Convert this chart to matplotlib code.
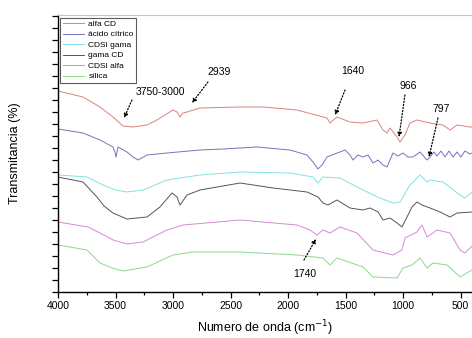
import matplotlib
matplotlib.use("Agg")
import matplotlib.pyplot as plt
from matplotlib.ticker import MultipleLocator

plt.rcParams['font.family'] = ['Liberation Sans', 'DejaVu Sans']

# FTIR spectra, offset vertically (arbitrary units)
w_alfa = [4000, 3783, 3635, 3522, 3435, 3348, 3226, 3139, 3000, 2965, 2939, 2913, 2878, 2765,
          2417, 2217, 1922, 1661, 1635, 1574, 1461, 1348, 1226, 1174, 1139, 1113, 1052, 1026,
          983, 939, 878, 765, 652, 591, 530, 417, 400]
t_alfa = [201, 195, 185, 175, 166, 165, 167, 172, 182, 180, 175, 179, 180, 184,
          185, 185, 182, 174, 169, 175, 170, 169, 172, 162, 159, 164, 155, 150,
          157, 169, 172, 169, 167, 162, 167, 165, 165]

w_citrico = [4000, 3783, 3635, 3522, 3504, 3496, 3478, 3400, 3348, 3304, 3226, 3052, 2765, 2565,
             2270, 1983, 1835, 1783, 1739, 1704, 1661, 1504, 1461, 1435, 1391, 1348, 1304, 1261,
             1217, 1174, 1139, 1087, 1043, 1000, 957, 913, 852, 791, 765, 730, 704, 670, 635,
             600, 565, 530, 496, 461, 417, 400]
t_citrico = [163, 159, 152, 145, 140, 135, 145, 140, 135, 132, 137, 139, 142, 143,
             145, 142, 137, 130, 123, 127, 135, 142, 137, 132, 137, 135, 137, 129,
             132, 127, 125, 139, 136, 139, 135, 135, 140, 132, 135, 140, 136, 141, 135,
             141, 135, 140, 135, 141, 138, 139]

w_cdsi_gama = [4000, 3748, 3609, 3500, 3400, 3261, 3052, 2939, 2765, 2417, 1983, 1783, 1739,
               1696, 1548, 1348, 1200, 1087, 1026, 939, 852, 791, 765, 652, 504, 461, 400]
t_cdsi_gama = [117, 115, 107, 102, 100, 102, 112, 114, 117, 120, 119, 115, 109,
               115, 114, 102, 94, 89, 90, 107, 117, 110, 112, 110, 97, 94, 100]

w_gama = [4000, 3783, 3661, 3600, 3522, 3400, 3226, 3113, 3009, 2965, 2939, 2878, 2765, 2417,
          2130, 1835, 1739, 1696, 1652, 1574, 1461, 1348, 1287, 1217, 1174, 1113, 1052, 1009,
          965, 922, 878, 835, 765, 678, 591, 530, 400]
t_gama = [115, 110, 95, 86, 79, 73, 75, 85, 99, 95, 87, 97, 102, 109,
          104, 100, 95, 89, 87, 92, 84, 82, 84, 80, 72, 74, 69, 65,
          75, 85, 90, 87, 84, 80, 75, 79, 80]

w_cdsi_alfa = [4000, 3739, 3635, 3520, 3400, 3261, 3052, 2913, 2417, 1922, 1809, 1748, 1696,
               1635, 1548, 1400, 1261, 1087, 1009, 983, 878, 835, 791, 765, 704, 591, 504,
               461, 400]
t_cdsi_alfa = [70, 65, 59, 52, 48, 50, 62, 67, 72, 67, 62, 57, 62,
               59, 65, 59, 42, 37, 42, 54, 60, 67, 55, 57, 62, 59, 42,
               39, 46]

w_silica = [4000, 3748, 3635, 3530, 3435, 3226, 3000, 2826, 2417, 1922, 1696, 1635, 1574,
            1348, 1261, 1052, 1000, 922, 852, 791, 739, 617, 504, 400]
t_silica = [47, 42, 29, 24, 21, 25, 37, 40, 40, 37, 34, 27, 34,
            25, 15, 14, 24, 27, 34, 24, 29, 27, 15, 22]

series = [
    ("alfa CD", w_alfa, t_alfa, "#d9847c"),
    ("ácido cítrico", w_citrico, t_citrico, "#7474bc"),
    ("CDSI gama", w_cdsi_gama, t_cdsi_gama, "#86e0e0"),
    ("gama CD", w_gama, t_gama, "#555555"),
    ("CDSI alfa", w_cdsi_alfa, t_cdsi_alfa, "#d888d8"),
    ("sílica", w_silica, t_silica, "#8cd88c"),
]

# band labels: text, text position, arrow start, arrow tip
bands = [
    ("3750-3000", (3113, 200), (3357, 192), (3426, 174)),
    ("2939", (2600, 220), (2696, 210), (2835, 189)),
    ("1640", (1435, 221), (1504, 202), (1591, 177)),
    ("966", (957, 206), (983, 197), (1035, 155)),
    ("797", (670, 183), (696, 174), (774, 135)),
    ("1740", (1852, 18), (1861, 32), (1757, 53)),
]

fig = plt.figure(figsize=(4.72, 3.38), dpi=100)
ax = fig.add_axes([58 / 472, 46 / 338, 414 / 472, 277 / 338])

for name, w, t, c in series:
    ax.plot(w, t, color=c, lw=0.7, label=name)

for txt, tpos, start, tip in bands:
    ax.text(tpos[0], tpos[1], txt, fontsize=7.5, ha='center', va='center')
    ax.annotate("", xy=tip, xytext=start,
                arrowprops=dict(arrowstyle='-|>', ls=(0, (1, 1.5)), lw=0.9, color='k',
                                mutation_scale=6, shrinkA=0, shrinkB=0))

ax.set_xlim(4000, 400)
ax.set_ylim(0, 277)
ax.xaxis.set_major_locator(MultipleLocator(500))
ax.xaxis.set_minor_locator(MultipleLocator(250))
ax.yaxis.set_major_locator(MultipleLocator(12))
ax.set_yticklabels([])
ax.tick_params(axis='x', which='major', length=4.5, width=0.9, labelsize=7.5, pad=2)
ax.tick_params(axis='x', which='minor', length=2.5, width=0.9)
ax.tick_params(axis='y', which='major', length=4.5, width=0.9)

ax.spines['right'].set_visible(False)
ax.spines['top'].set_color('#c4c4c4')
ax.spines['left'].set_linewidth(1.0)
ax.spines['bottom'].set_linewidth(1.0)

ax.set_xlabel("Numero de onda (cm$^{-1}$)", fontsize=9)
ax.set_ylabel("Transmitancia (%)", fontsize=9)
ax.xaxis.set_label_coords(0.5, -0.095)
ax.yaxis.set_label_coords(-0.09, 0.5)

leg = ax.legend(loc='upper left', bbox_to_anchor=(0.002, 0.995), fontsize=6,
                frameon=True, fancybox=False, handlelength=2.6, handletextpad=0.5,
                labelspacing=0.32, borderpad=0.25, borderaxespad=0.2)
leg.get_frame().set_edgecolor('#333333')
leg.get_frame().set_linewidth(0.8)

fig.savefig("out.png", dpi=100)
